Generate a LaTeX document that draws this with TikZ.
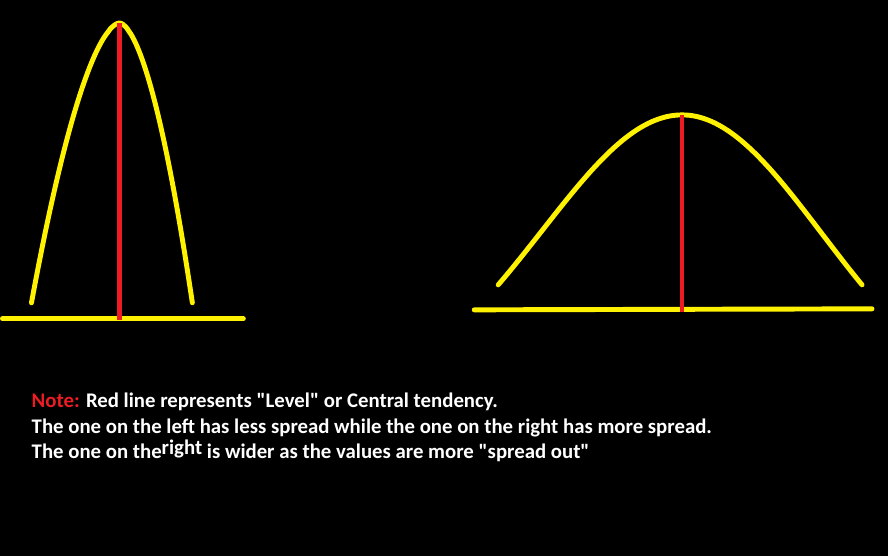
\documentclass[tikz,border=0pt]{standalone}
\usepackage{fontspec}
\setmainfont{Carlito}[Ligatures=TeXOff]
\usepackage{xcolor}
\usetikzlibrary{positioning}
\definecolor{paintyellow}{RGB}{255,242,0}
\definecolor{paintred}{RGB}{237,28,36}

\begin{document}
\begin{tikzpicture}[x=0.75pt, y=-0.75pt,
		curve/.style={paintyellow, line width=3.7pt, line cap=round, line join=round},
		level/.style={paintred, line width=3.4pt},
		notetext/.style={white, anchor=base west, inner sep=0pt,
			font=\fontsize{15.6pt}{19pt}\selectfont\bfseries}]
		\fill[black] (0,0) rectangle (888,556);
		% left (narrow) curve
		\coordinate (LP) at (119,23);
		\coordinate (LL) at (2,319);
		\coordinate (LR) at (243,319);
		\coordinate (LM) at (119,320);
		\draw[curve] plot[domain=1:0.002, samples=40] ({119-88*\x},{23+280*\x^1.7})
			-- plot[domain=0.002:1, samples=40] ({119+73*\x},{23+280*\x^1.75});
		\draw[curve] (LL)--(LR);
		\draw[level] (LP)--(LM);
		% right (wide) curve
		\coordinate (RP) at (682,115);
		\coordinate (RL) at (474,310);
		\coordinate (RR) at (872,309);
		\coordinate (RM) at (682,312);
		\draw[curve] plot[domain=-184:0, samples=50] ({682+\x},{115+170*(1-exp(-(\x/198)*(\x/198)))/0.5784})
			-- plot[domain=0:180, samples=50] ({682+\x},{115+170*(1-exp(-(\x/198)*(\x/198)))/0.5624});
		\draw[curve] (RL)--(RR);
		\draw[level] (RP)--(RM);
		% notes
		\node[notetext] (note1) at (31,408) {\textcolor{paintred}{Note:} Red line represents "Level" or Central tendency.};
		\node[notetext] (note2) at (31,433.5) {The one on the left has less spread while the one on the right has more spread.};
		\node[notetext] (note3) at (31,459) {The one on the\raisebox{3pt}{right} is wider as the values are more "spread out"};
	\end{tikzpicture}
\end{document}
